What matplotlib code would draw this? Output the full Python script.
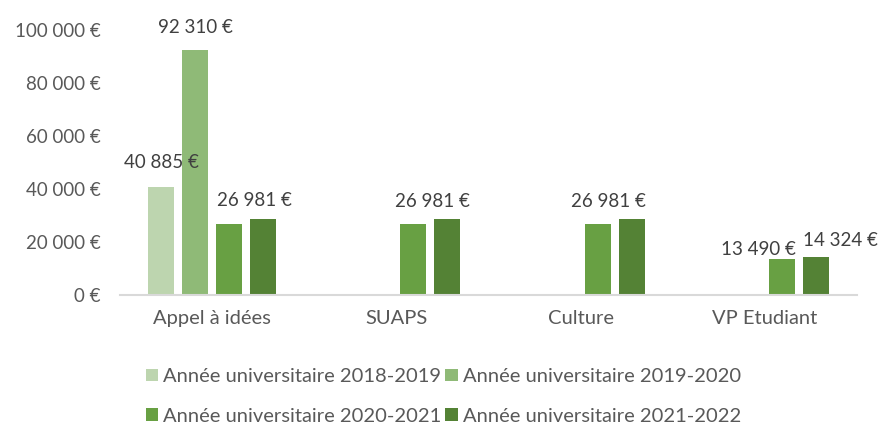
import matplotlib
matplotlib.use("Agg")
import matplotlib.pyplot as plt
import numpy as np

categories = ["Appel à idées", "SUAPS", "Culture", "VP Etudiant"]
series_names = ["Année universitaire 2018-2019", "Année universitaire 2019-2020",
                "Année universitaire 2020-2021", "Année universitaire 2021-2022"]
v2018 = [40885, 0, 0, 0]
v2019 = [92310, 0, 0, 0]
v2020 = [26981, 26981, 26981, 13490]
v2021 = [28648, 28648, 28648, 14324]
values = [v2018, v2019, v2020, v2021]
yticks = [0, 20000, 40000, 60000, 80000, 100000]

colors = ["#BDD5AF", "#8FBA77", "#68A043", "#548235"]

# labels: (series index, category index, x offset px, y offset px)
labels = [(0, 0, 0, 24), (1, 0, 0, 23), (2, 0, 25, 23), (2, 1, 19, 22),
          (2, 2, 11, 22), (2, 3, -23, 10), (3, 3, 24, 17)]

def fmt(v):
    return "{:,}".format(int(v)).replace(",", " ") + " €"

plt.rcParams['font.family'] = ['Lato', 'DejaVu Sans']
fig = plt.figure(figsize=(8.79, 4.26), dpi=100)
ax = fig.add_axes([120/879, 1-295/426, (857-120)/879, (295-30)/426])

x = np.arange(len(categories))
spacing = 34/184
width = 26/184
offsets = [-1.5, -0.5, 0.5, 1.5]
handles = []
for i, (vals, c, name) in enumerate(zip(values, colors, series_names)):
    b = ax.bar(x + offsets[i]*spacing, vals, width=width, color=c, label=name)
    handles.append(b)

for si, ci, dx, dy in labels:
    v = values[si][ci]
    ax.annotate(fmt(v), (x[ci] + offsets[si]*spacing, v), xytext=(dx*0.72, dy*0.72),
                textcoords="offset points", ha="center", va="center",
                fontsize=13.5, color="#404040")

ax.set_xlim(-0.5, 3.5)
ax.set_ylim(0, 100000)
ax.set_yticks(yticks)
ax.set_yticklabels([fmt(t) for t in yticks], fontsize=13.5, color="#595959")
ax.set_xticks(x)
ax.set_xticklabels(categories, fontsize=14.5, color="#595959")
ax.tick_params(axis='both', length=0)
ax.tick_params(axis='y', pad=14)
ax.tick_params(axis='x', pad=11)
for s in ["top", "right", "left"]:
    ax.spines[s].set_visible(False)
ax.spines["bottom"].set_color("#D9D9D9")
ax.spines["bottom"].set_linewidth(1.5)

order = [0, 2, 1, 3]
fig.legend([handles[i] for i in order], [series_names[i] for i in order],
           loc="upper left", bbox_to_anchor=(132/879, 1-354/426), ncol=2,
           frameon=False, fontsize=14.5, handlelength=0.6, handleheight=0.6,
           handletextpad=0.25, columnspacing=0.2, labelspacing=1.12,
           borderpad=0.2, labelcolor="#595959")

fig.savefig("out.png", dpi=100)
